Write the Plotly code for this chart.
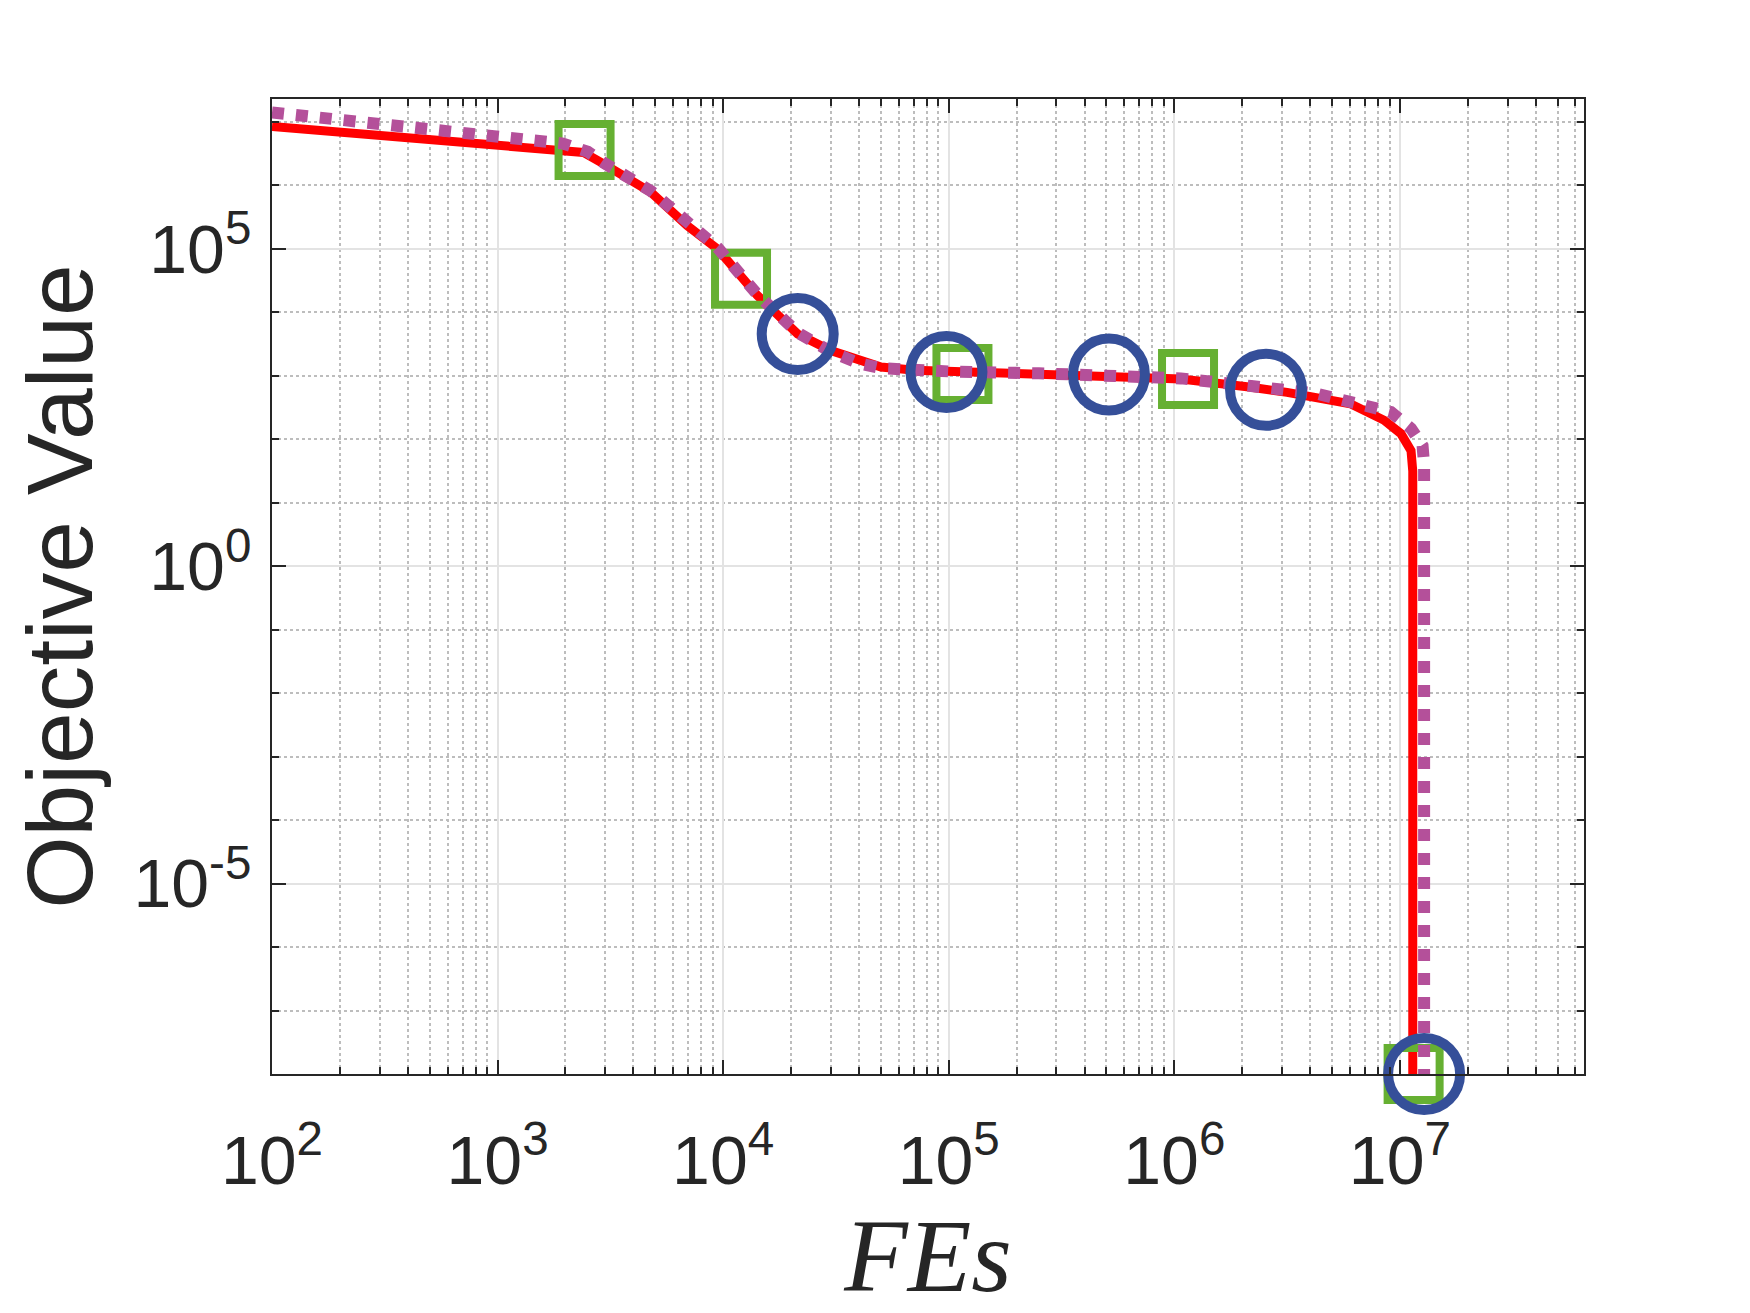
import plotly.graph_objects as go

# convergence curves
red_fes = [1e2, 2.4e3, 2.95e3, 4.79e3, 6.92e3, 9.44e3, 1.42e4, 1.8e4, 2.14e4,
           3.0e4, 3.98e4, 5.01e4, 7.08e4, 1e5, 2.51e5, 5.37e5, 1.07e6, 2.19e6,
           3.16e6, 6.03e6, 8.51e6, 1.01e7, 1.12e7, 1.14e7, 1.14e7]
red_val = [8.5e6, 3.31e6, 2.19e6, 7.76e5, 2.34e5, 1.0e5, 1.84e4, 8318, 4571,
           2512, 1738, 1380, 1230, 1175, 1096, 1000, 891, 661,
           550, 363, 200, 123, 66, 31.6, 1e-8]

purple_fes = [1e2, 1.95e3, 2.51e3, 2.95e3, 4.79e3, 6.92e3, 9.44e3, 1.42e4, 1.8e4,
              2.14e4, 3.0e4, 3.98e4, 5.01e4, 7.08e4, 1e5, 2.51e5, 5.37e5, 1.07e6,
              2.19e6, 4.27e6, 9.12e6, 1.12e7, 1.26e7, 1.28e7, 1.28e7]
purple_val = [1.41e7, 4.57e6, 3.39e6, 2.29e6, 8.13e5, 2.51e5, 1.05e5, 1.9e4, 8710,
              4786, 2399, 1585, 1318, 1202, 1175, 1096, 1023, 912,
              692, 525, 269, 148, 79, 40, 1e-8]

square_fes = [2.43e3, 1.2e4, 1.15e5, 1.15e6, 1.15e7]
square_val = [3.63e6, 3.39e4, 1072, 891, 1e-8]

circle_fes = [2.14e4, 9.77e4, 5.13e5, 2.55e6, 1.28e7]
circle_val = [4571, 1148, 1047, 603, 1e-8]

x_exponents = ["2", "3", "4", "5", "6", "7"]
y_exponents = ["-5", "0", "5"]
x_major = [10.0 ** int(e) for e in x_exponents]
y_major = [10.0 ** int(e) for e in y_exponents]
x_minor = [m * 10 ** k for k in range(2, 8) for m in range(2, 10) if m * 10 ** k < 6.6e7]
y_minor = [10.0 ** k for k in range(-7, 8) if k % 5 != 0]


def power_label(e):
    return "10<sup>%s</sup>" % e


ink = "#262626"
font = "Liberation Sans, Arial, Helvetica, sans-serif"

fig = go.Figure()
fig.add_trace(go.Scatter(x=red_fes, y=red_val, mode="lines",
                         line=dict(color="#FF0000", width=9)))
fig.add_trace(go.Scatter(x=square_fes, y=square_val, mode="markers", cliponaxis=False,
                         marker=dict(symbol="square-open", size=52, color="#66B032",
                                     line=dict(color="#66B032", width=8))))
fig.add_trace(go.Scatter(x=purple_fes, y=purple_val, mode="lines",
                         line=dict(color="#B4509A", width=12, dash="dot")))
fig.add_trace(go.Scatter(x=circle_fes, y=circle_val, mode="markers", cliponaxis=False,
                         marker=dict(symbol="circle-open", size=72, color="#354F99",
                                     line=dict(color="#354F99", width=10))))

axis_common = dict(
    showline=True, linecolor=ink, linewidth=2, mirror="ticks",
    ticks="inside", ticklen=14, tickwidth=2, tickcolor=ink,
    showgrid=True, gridcolor="#E3E3E3", gridwidth=1.5,
    tickfont=dict(family=font, size=68, color=ink),
    zeroline=False, automargin=False,
)
minor_common = dict(tickmode="array", ticks="inside", ticklen=7, tickwidth=1.5,
                    tickcolor=ink, showgrid=True, gridcolor="#BDBDBD",
                    gridwidth=1.5, griddash="dot")

fig.update_xaxes(type="log", range=[2, 7.816], tickmode="array",
                 tickvals=x_major, ticktext=[power_label(e) for e in x_exponents],
                 ticklabelstandoff=26,
                 minor=dict(tickvals=x_minor, **minor_common),
                 title=dict(text="<i>FEs</i>", standoff=0,
                            font=dict(family="Liberation Serif, Times New Roman, serif",
                                      size=104, color=ink)),
                 **axis_common)
fig.update_yaxes(type="log", range=[-8, 7.362], tickmode="array",
                 tickvals=y_major, ticktext=[power_label(e) for e in y_exponents],
                 ticklabelstandoff=5,
                 minor=dict(tickvals=y_minor, **minor_common),
                 title=dict(text="Objective Value", standoff=33,
                            font=dict(family=font, size=93, color=ink)),
                 **axis_common)

fig.update_layout(width=1750, height=1313, showlegend=False,
                  margin=dict(l=264, r=174, t=91, b=247),
                  plot_bgcolor="white", paper_bgcolor="white")

fig.write_html("out.html")
